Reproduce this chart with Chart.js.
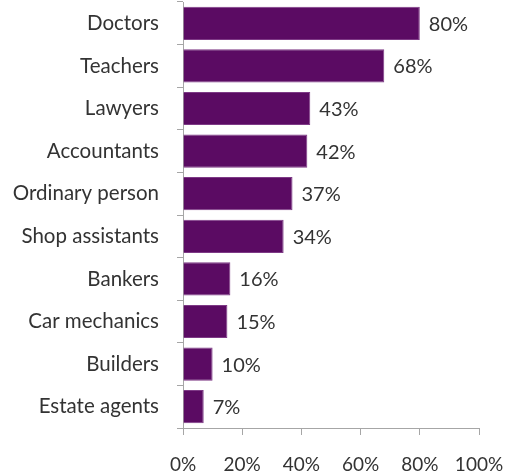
<!DOCTYPE html>
<html>
<head>
<meta charset="utf-8">
<script src="https://cdn.jsdelivr.net/npm/chart.js@4"></script>
<style>
  html, body { margin: 0; padding: 0; background: #fff; }
  #chart { display: block; }
</style>
</head>
<body>
<canvas id="chart" width="511" height="474"></canvas>
<script>
// Share of people who trust each profession (%)
const professions = ['Doctors', 'Teachers', 'Lawyers', 'Accountants', 'Ordinary person',
                     'Shop assistants', 'Bankers', 'Car mechanics', 'Builders', 'Estate agents'];
const trustValues = [80, 68, 43, 42, 37, 34, 16, 15, 10, 7];
const axisTicks = [0, 20, 40, 60, 80, 100];

const BAR_COLOR = '#5b0b63';
const TEXT_COLOR = '#333333';
const AXIS_COLOR = '#a6a6a6';
const FONT = 'Lato';

// Draws "NN%" just past the end of each bar
const valueLabels = {
    id: 'valueLabels',
    afterDatasetsDraw(chart) {
        const ctx = chart.ctx;
        const meta = chart.getDatasetMeta(0);
        ctx.save();
        ctx.font = `20px ${FONT}`;
        ctx.fillStyle = TEXT_COLOR;
        ctx.textAlign = 'left';
        ctx.textBaseline = 'middle';
        meta.data.forEach((bar, i) => {
            ctx.fillText(trustValues[i] + '%', bar.x + 9, bar.y + 1);
        });
        ctx.restore();
    }
};

new Chart(document.getElementById('chart'), {
    type: 'bar',
    data: {
        labels: professions,
        datasets: [{
            data: trustValues,
            backgroundColor: BAR_COLOR,
            borderColor: '#7e3a86',
            borderWidth: 1,
            categoryPercentage: 1,
            barPercentage: 0.78
        }]
    },
    options: {
        indexAxis: 'y',
        responsive: false,
        animation: false,
        layout: { padding: { top: 2, right: 32, left: 0, bottom: 0 } },
        plugins: {
            legend: { display: false },
            tooltip: { enabled: false }
        },
        scales: {
            x: {
                min: 0,
                max: 100,
                afterBuildTicks: scale => {
                    scale.ticks = axisTicks.map(v => ({ value: v }));
                },
                afterFit: scale => {
                    scale.height = 46;
                    scale.paddingLeft = 0;
                    scale.paddingRight = 0;
                },
                grid: {
                    drawOnChartArea: false,
                    drawTicks: true,
                    tickLength: 7,
                    color: AXIS_COLOR
                },
                border: { display: true, color: AXIS_COLOR },
                ticks: {
                    padding: 18,
                    color: TEXT_COLOR,
                    font: { family: FONT, size: 19 },
                    callback: v => v + '%'
                }
            },
            y: {
                afterFit: scale => {
                    scale.width = 183;
                    scale.paddingTop = 0;
                    scale.paddingBottom = 0;
                },
                grid: {
                    offset: true,
                    drawOnChartArea: false,
                    drawTicks: true,
                    tickLength: 6,
                    color: AXIS_COLOR
                },
                border: { display: true, color: AXIS_COLOR },
                ticks: {
                    padding: 18,
                    color: TEXT_COLOR,
                    font: { family: FONT, size: 20.5 }
                }
            }
        }
    },
    plugins: [valueLabels]
});
</script>
</body>
</html>
